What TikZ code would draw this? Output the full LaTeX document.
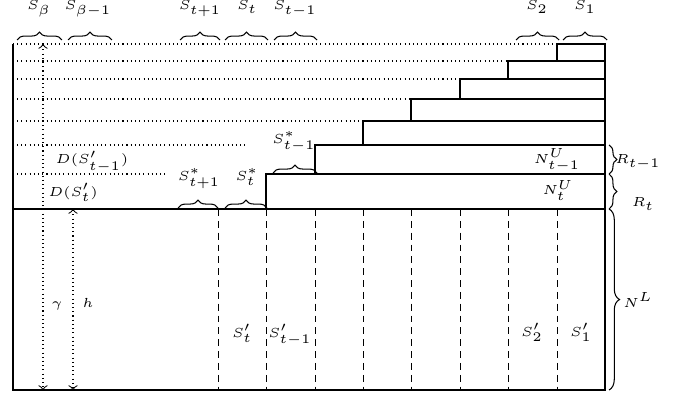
\documentclass[tikz,border=0pt]{standalone}
\usepackage{amsmath,amssymb}
\usetikzlibrary{decorations.pathreplacing}
\tikzset{
  lbl/.style={font=\tiny, inner sep=0.5pt, anchor=base},
  brc/.style={decorate, decoration={brace, amplitude=3pt}},
  bigbrc/.style={decorate, decoration={brace, amplitude=4pt}},
  dotline/.style={dash pattern=on 0.4pt off 1.2pt},
  cutline/.style={dash pattern=on 2.6pt off 1.9pt, line width=0.35pt},
  outer/.style={line width=0.8pt}
}

\begin{document}
\begin{tikzpicture}[x=0.38pt, y=0.38pt]
\useasboundingbox (0,0) rectangle (683,396);

% upper part: staircase of rows N^U
\foreach \xl/\yt/\yb in {557/352/335, 508/335/317, 460/317/297, 411/297/275,
                         363/275/251, 315/251/222, 266/222/187}
  \draw (\xl,\yt) rectangle (605,\yb);
\foreach \y/\xe in {352/557, 335/508, 317/460, 297/411, 275/363}
  \draw[dotline] (13,\y) -- (\xe,\y);
\draw[dotline] (17,251) -- (245,251);
\draw[dotline] (17,222) -- (165,222);
\draw (13,187) -- (266,187);

% lower part: columns S'
\foreach \x in {218,266,315,363,411,460,508,557}
  \draw[cutline] (\x,187) -- (\x,6);
\draw[outer] (13,352) -- (13,6) -- (605,6) -- (605,352);

% heights
\coordinate (gtop) at (43,352);
\coordinate (gbot) at (43,6);
\coordinate (htop) at (73,187);
\coordinate (hbot) at (73,6);
\draw[dotline, <->] (gtop) -- (gbot);
\draw[dotline, <->] (htop) -- (hbot);
\node[lbl] (gam) at (57,89) {$\gamma$};
\node[lbl] (hgt) at (88,89) {$h$};

% braces on top
\foreach \xa/\xb in {17/62, 68/112, 180/220, 225/268, 274/317, 516/559, 563/607}
  \draw[brc] (\xa,356) -- (\xb,356);
\node[lbl] (sbeta)  at (39,386)  {$S_\beta$};
\node[lbl] (sbetam) at (88,386)  {$S_{\beta-1}$};
\node[lbl] (stp)    at (200,386) {$S_{t+1}$};
\node[lbl] (st)     at (247,386) {$S_t$};
\node[lbl] (stm)    at (295,386) {$S_{t-1}$};
\node[lbl] (stwo)   at (537,386) {$S_2$};
\node[lbl] (sone)   at (585,386) {$S_1$};

% starred columns
\draw[brc] (178,188) -- (218,188);
\draw[brc] (225,188) -- (267,188);
\draw[brc] (273,223) -- (317,223);
\node[lbl] (sstp) at (199,216) {$S^*_{t+1}$};
\node[lbl] (sst)  at (247,216) {$S^*_t$};
\node[lbl] (sstm) at (294,253) {$S^*_{t-1}$};

\node[lbl] (dstm) at (92,232) {$D(S'_{t-1})$};
\node[lbl] (dst)  at (73,200) {$D(S'_t)$};
\node[lbl] (nutm) at (557,233) {$N^U_{t-1}$};
\node[lbl] (nut)  at (558,201) {$N^U_t$};

\node[lbl] (sptt) at (242,59) {$S'_t$};
\node[lbl] (sptm) at (290,59) {$S'_{t-1}$};
\node[lbl] (sptwo) at (532,60) {$S'_2$};
\node[lbl] (spone) at (581,60) {$S'_1$};

% braces on the right
\draw[brc] (609,251) -- (609,222);
\draw[brc] (609,222) -- (609,187);
\draw[bigbrc] (609,187) -- (609,6);
\node[lbl] (rtm) at (638,233) {$R_{t-1}$};
\node[lbl] (rt)  at (643,189) {$R_t$};
\node[lbl] (nl)  at (638,89)  {$N^L$};
\end{tikzpicture}
\end{document}
